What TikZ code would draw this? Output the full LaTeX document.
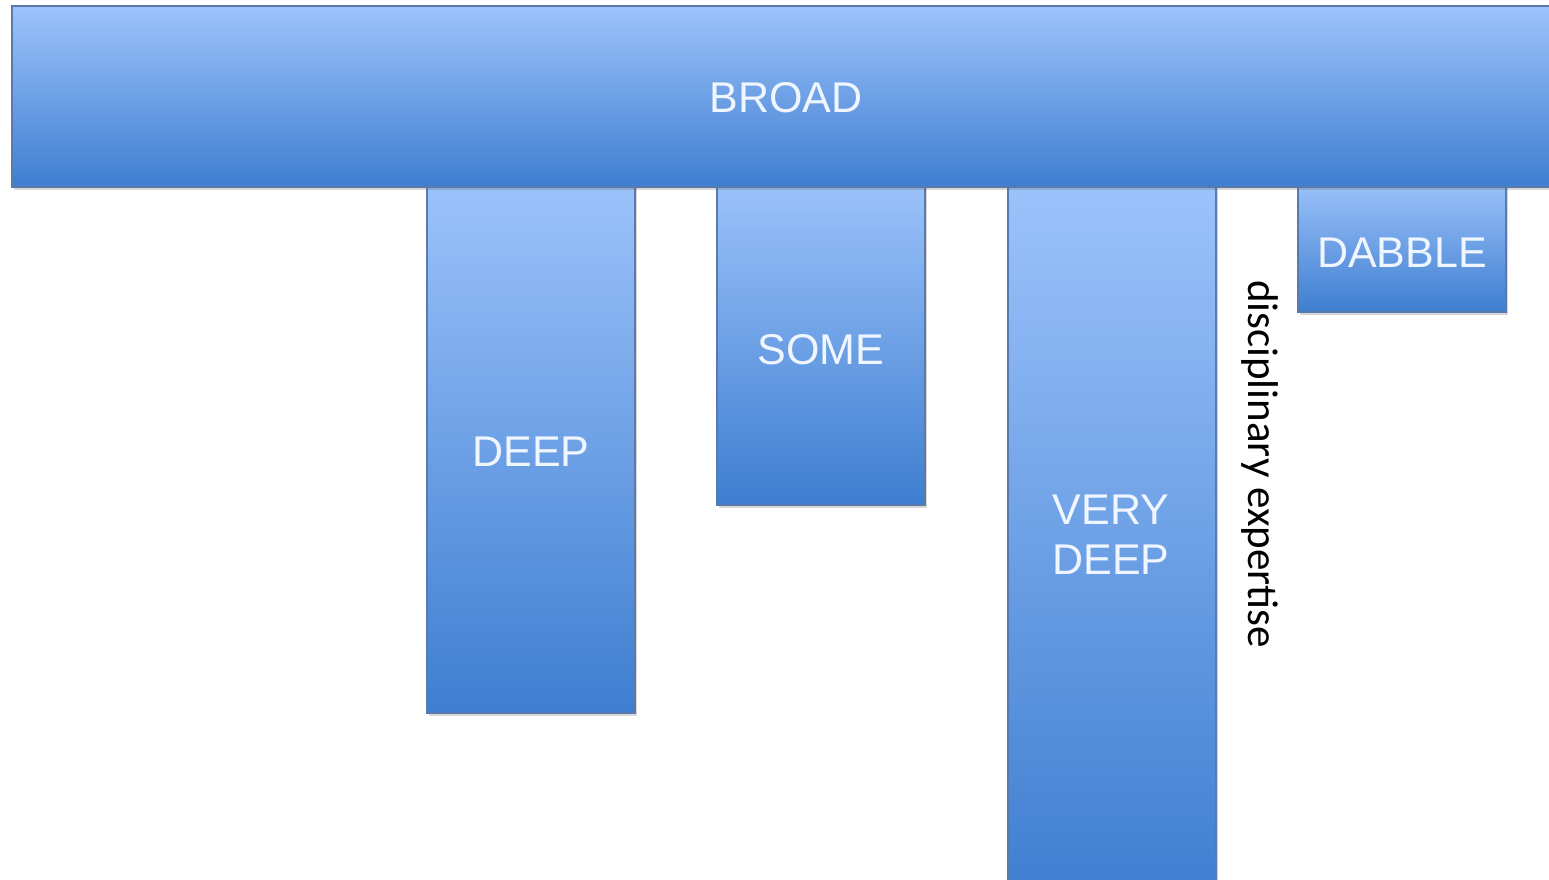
\documentclass[tikz,border=0pt]{standalone}
\usepackage{fontspec}
\setmainfont{Liberation Sans}
\newfontfamily\notefont{Carlito}
\usetikzlibrary{shadows}
\definecolor{bartop}{RGB}{157,195,251}
\definecolor{barbot}{RGB}{62,126,208}
\definecolor{baredge}{RGB}{88,122,172}
\definecolor{labelwhite}{RGB}{240,246,255}
\begin{document}
\begin{tikzpicture}[x=1pt,y=-1pt,
  bar/.style={draw=baredge, line width=1.2pt, top color=bartop, bottom color=barbot,
    drop shadow={shadow xshift=1.5pt, shadow yshift=-2.5pt, opacity=0.25, fill=black!60}},
  barlabel/.style={text=labelwhite, font=\fontsize{43}{50}\selectfont, align=center, inner sep=0pt},
  notelabel/.style={text=black, font=\notefont\fontsize{43}{50}\selectfont, rotate=-90, inner sep=0pt}]
  \useasboundingbox (0,0) rectangle (1549,880);
  \clip (0,0) rectangle (1549,880);
  \fill[white] (0,0) rectangle (1549,880);
  % vertical bars hanging below the broad bar
  \draw[bar] (427,180) rectangle (635,713);
  \draw[bar] (717,180) rectangle (925,505);
  \draw[bar] (1008,180) rectangle (1216,900);
  \draw[bar] (1298,180) rectangle (1506,312);
  % the broad bar on top
  \draw[bar] (12,6) rectangle (1570,187);
  % labels
  \node[barlabel] (broad) at (786,98) {BROAD};
  \node[barlabel] (deep) at (531,452) {DEEP};
  \node[barlabel] (some) at (821,350) {SOME};
  \node[barlabel] (verydeep) at (1111,535) {VERY\\DEEP};
  \node[barlabel] (dabble) at (1402,253) {DABBLE};
  \node[notelabel] (expertise) at (1260,464) {disciplinary expertise};
\end{tikzpicture}
\end{document}
